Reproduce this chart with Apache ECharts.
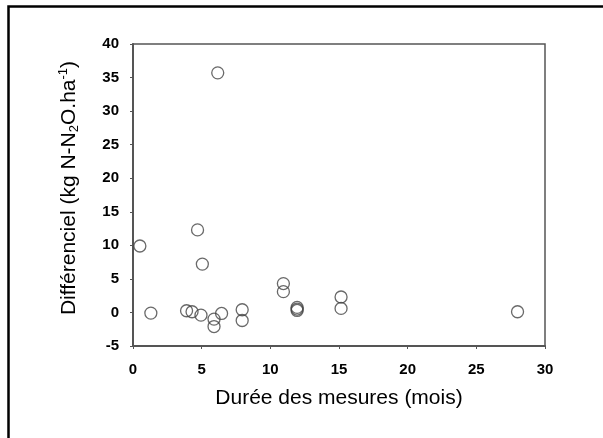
<!DOCTYPE html>
<html><head><meta charset="utf-8">
<script src="https://cdn.jsdelivr.net/npm/echarts@6/dist/echarts.min.js"></script>
<style>html,body{margin:0;padding:0;background:#fff}#c{width:603px;height:438px}</style>
</head><body><div id="c"></div>
<script>
var durees = [0.5, 1.3, 3.9, 4.3, 4.95, 4.7, 5.05, 5.9, 5.9, 6.17, 6.45, 7.95, 7.95, 10.95, 10.95, 11.95, 11.95, 11.95, 15.15, 15.15, 28.0];
var differentiels = [9.9, -0.1, 0.25, 0.1, -0.4, 12.3, 7.2, -1.0, -2.1, 35.7, -0.15, 0.4, -1.2, 4.3, 3.1, 0.75, 0.5, 0.3, 2.3, 0.6, 0.1];
var xTicks = [0, 5, 10, 15, 20, 25, 30];
var yTicks = [-5, 0, 5, 10, 15, 20, 25, 30, 35, 40];

var pts = durees.map(function (d, i) { return [d, differentiels[i]]; });
var chart = echarts.init(document.getElementById('c'));
var FF = 'Liberation Sans, Arial, sans-serif';
var lbl = { color: '#000', fontFamily: FF, fontWeight: 'bold', fontSize: 15 };
chart.setOption({
  animation: false,
  grid: { left: 133, right: 58, top: 44, bottom: 92, show: true, borderColor: '#555', borderWidth: 1.5 },
  xAxis: {
    type: 'value', min: xTicks[0], max: xTicks[xTicks.length - 1], interval: 5,
    axisLine: { show: true, onZero: false, lineStyle: { color: '#555', width: 2 } },
    axisTick: { show: true, inside: false, length: 3, lineStyle: { color: '#555' } },
    splitLine: { show: false },
    axisLabel: Object.assign({ margin: 16 }, lbl),
    name: 'Durée des mesures (mois)', nameLocation: 'middle', nameGap: 42,
    nameTextStyle: { fontFamily: FF, fontSize: 21, color: '#000' }
  },
  yAxis: {
    type: 'value', min: yTicks[0], max: yTicks[yTicks.length - 1], interval: 5,
    axisLine: { show: true, onZero: false, lineStyle: { color: '#555', width: 2 } },
    axisTick: { show: true, inside: false, length: 3, lineStyle: { color: '#555' } },
    splitLine: { show: false },
    axisLabel: Object.assign({ margin: 14 }, lbl),
    name: '{a|Différenciel (kg N-N}{sub|2}{a|O.ha}{sup|-1}{a|)}', nameLocation: 'middle', nameGap: 52, nameRotate: 90,
    nameTextStyle: {
      color: '#000',
      padding: [0, 0, 0, 14],
      rich: {
        a: { fontFamily: FF, fontSize: 21, color: '#000', lineHeight: 24 },
        sub: { fontFamily: FF, fontSize: 13, color: '#000', verticalAlign: 'bottom', lineHeight: 24, padding: [10, 0, 0, 0] },
        sup: { fontFamily: FF, fontSize: 13, color: '#000', verticalAlign: 'top', lineHeight: 24, padding: [0, 0, 10, 0] }
      }
    }
  },
  series: [{
    type: 'scatter', data: pts, symbol: 'circle', symbolSize: 12,
    itemStyle: { color: 'rgba(255,255,255,0)', borderColor: '#444', borderWidth: 1.3 }
  }],
  graphic: [{
    type: 'rect', left: 6, top: 4, shape: { x: 0, y: 0, width: 700, height: 600 },
    style: { fill: 'none', stroke: '#000', lineWidth: 2.5 }, silent: true
  }]
});
</script></body></html>
